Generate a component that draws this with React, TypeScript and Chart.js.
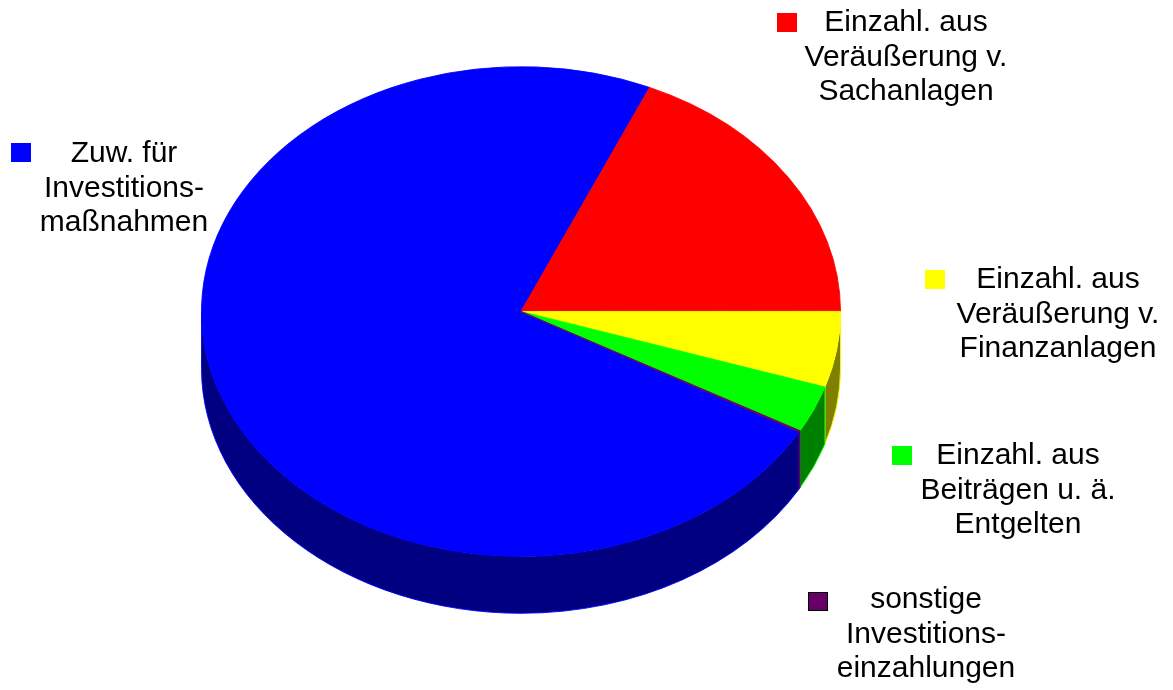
import React, { useEffect, useRef } from "react";
import { Chart, registerables } from "chart.js";

Chart.register(...registerables);

// ---- data ----
const categories: string[][] = [
  ["Zuw. für", "Investitions-", "maßnahmen"],
  ["Einzahl. aus", "Veräußerung v.", "Sachanlagen"],
  ["Einzahl. aus", "Veräußerung v.", "Finanzanlagen"],
  ["Einzahl. aus", "Beiträgen u. ä.", "Entgelten"],
  ["sonstige", "Investitions-", "einzahlungen"],
];
const shares: number[] = [73.4, 18.4, 5.0, 3.1, 0.1];
const topColors: string[] = ["#0000ff", "#ff0000", "#ffff00", "#00ff00", "#660066"];
const sideColors: string[] = ["#000080", "#800000", "#808000", "#008000", "#330033"];

// ---- layout ----
const W = 1173;
const H = 690;
const CY = 311.5; // screen centre of the tilted top face
const RX = 319.5;
const RY = 244.8;
const DEPTH = 57;
const K = RY / RX;
const AREA_TOP = 25;
const AREA_H = 640;
const PIE_CY = AREA_TOP + AREA_H / 2;

const labelBoxes = [
  { sqX: 11, sqY: 143, cx: 124, baseline: 163 },
  { sqX: 777, sqY: 13, cx: 906, baseline: 32 },
  { sqX: 925, sqY: 270, cx: 1058, baseline: 289 },
  { sqX: 892, sqY: 446, cx: 1018, baseline: 465 },
  { sqX: 808, sqY: 592, cx: 926, baseline: 609 },
];
const FONT_SIZE = 30;
const LINE_H = 34.5;
const BASE_OFF = (LINE_H - 1.117 * FONT_SIZE) / 2 + 0.905 * FONT_SIZE;

const tiltPlugin = {
  id: "tilt3d",
  beforeDatasetsDraw(chart: any) {
    const ctx = chart.ctx as CanvasRenderingContext2D;
    ctx.save();
    ctx.translate(0, CY);
    ctx.scale(1, K);
    ctx.translate(0, -PIE_CY);
    const meta = chart.getDatasetMeta(0);
    const D = DEPTH / K;
    const TAU = Math.PI * 2;
    meta.data.forEach((arc: any, i: number) => {
      const p = arc.getProps(["x", "y", "startAngle", "endAngle", "outerRadius"], true);
      for (
        let n = Math.floor(p.startAngle / TAU) - 1;
        n <= Math.ceil(p.endAngle / TAU) + 1;
        n++
      ) {
        const a0 = Math.max(p.startAngle, n * TAU);
        const a1 = Math.min(p.endAngle, n * TAU + Math.PI);
        if (a1 <= a0) continue;
        ctx.beginPath();
        ctx.arc(p.x, p.y, p.outerRadius, a0, a1, false);
        ctx.arc(p.x, p.y + D, p.outerRadius, a1, a0, true);
        ctx.closePath();
        ctx.fillStyle = sideColors[i];
        ctx.fill();
        ctx.lineWidth = 1;
        ctx.strokeStyle = topColors[i];
        ctx.stroke();
      }
    });
  },
  afterDatasetsDraw(chart: any) {
    chart.ctx.restore();
  },
};

export default function App() {
  const ref = useRef<HTMLCanvasElement | null>(null);

  useEffect(() => {
    if (!ref.current) return;
    const chart = new Chart(ref.current, {
      type: "pie",
      data: {
        labels: categories as any,
        datasets: [
          {
            data: shares,
            backgroundColor: topColors,
            borderColor: topColors,
            borderWidth: 1,
            clip: false as any,
          } as any,
        ],
      },
      options: {
        responsive: false,
        animation: false,
        events: [],
        rotation: 119.5,
        layout: { padding: { left: 201, right: W - 201 - 640, top: AREA_TOP, bottom: H - AREA_TOP - AREA_H } },
        plugins: {
          legend: { display: false },
          tooltip: { enabled: false },
        },
      },
      plugins: [tiltPlugin],
    });
    return () => chart.destroy();
  }, []);

  return (
    <div style={{ position: "absolute", left: 0, top: 0, width: W, height: H, background: "#fff", overflow: "hidden" }}>
      <canvas ref={ref} width={W} height={H} style={{ position: "absolute", left: 0, top: 0 }} />
      {categories.map((lines, i) => {
        const b = labelBoxes[i];
        return (
          <React.Fragment key={i}>
            <div
              style={{
                position: "absolute",
                left: b.sqX,
                top: b.sqY,
                width: 20,
                height: 19,
                background: topColors[i],
                boxSizing: "border-box",
                border: i === 4 ? "1px solid #000" : "none",
              }}
            />
            <div
              style={{
                position: "absolute",
                left: b.cx - 160,
                width: 320,
                top: b.baseline - BASE_OFF,
                textAlign: "center",
                fontFamily: "'Liberation Sans', Arial, sans-serif",
                fontSize: FONT_SIZE,
                lineHeight: LINE_H + "px",
                color: "#000",
                whiteSpace: "nowrap",
              }}
            >
              {lines.map((l, j) => (
                <div key={j}>{l}</div>
              ))}
            </div>
          </React.Fragment>
        );
      })}
    </div>
  );
}
